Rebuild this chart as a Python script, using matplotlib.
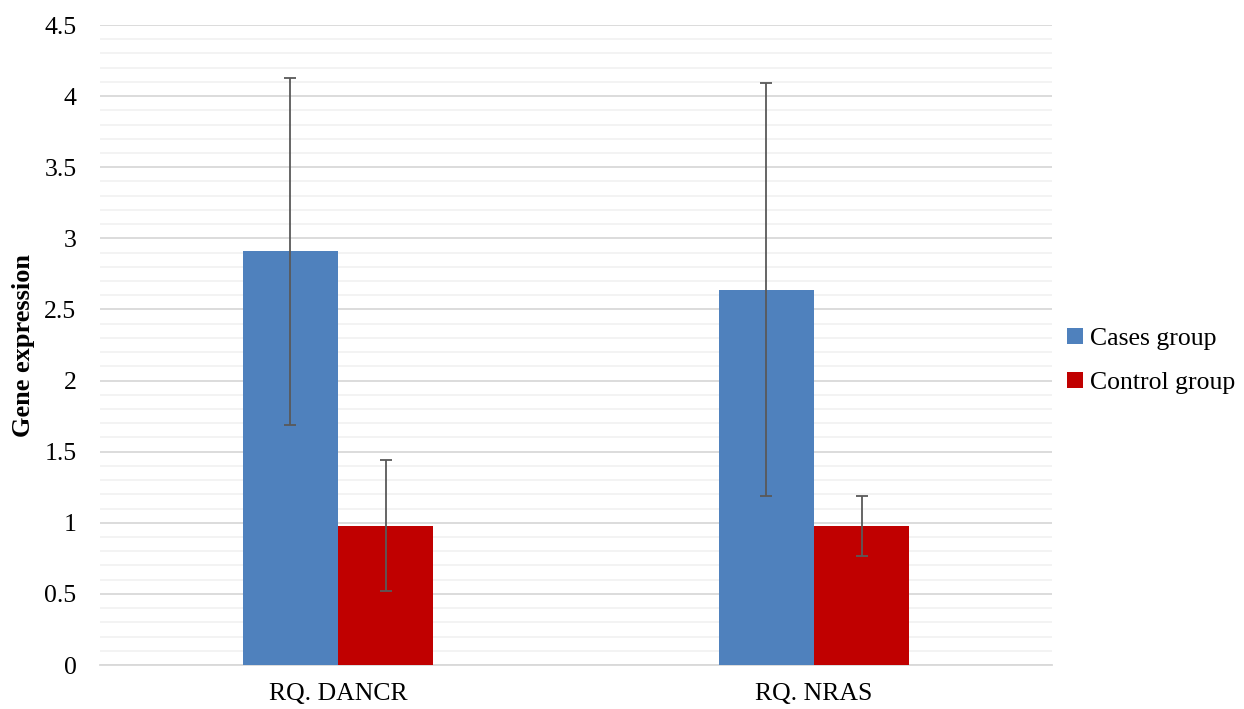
import matplotlib.pyplot as plt
import numpy as np
from matplotlib.ticker import MultipleLocator

plt.rcParams['font.family'] = ['Liberation Serif', 'DejaVu Serif']

categories = ['RQ. DANCR', 'RQ. NRAS']
series_names = ['Cases group', 'Control group']
cases_mean = [2.91, 2.64]
cases_err = [1.22, 1.45]
control_mean = [0.98, 0.98]
control_err = [0.46, 0.21]
colores = ['#4f81bd', '#c00000']

fig = plt.figure(figsize=(12.44, 7.09), dpi=100)
ax = fig.add_axes([0.0804, 0.062, 0.7653, 0.9027])

x = np.arange(len(categories))
ancho = 0.2
err_style = dict(ecolor='#595959', elinewidth=1.3, capsize=4.5, capthick=1.3)

ax.bar(x - ancho / 2, cases_mean, ancho, color=colores[0], label=series_names[0],
       yerr=cases_err, error_kw=err_style, zorder=3)
ax.bar(x + ancho / 2, control_mean, ancho, color=colores[1], label=series_names[1],
       yerr=control_err, error_kw=err_style, zorder=3)

ax.set_xlim(-0.5, 1.5)
ax.set_ylim(0, 4.5)
ax.yaxis.set_major_locator(MultipleLocator(0.5))
ax.yaxis.set_minor_locator(MultipleLocator(0.1))
ax.set_yticks(np.arange(0, 4.51, 0.5))
ax.set_yticklabels(['0', '0.5', '1', '1.5', '2', '2.5', '3', '3.5', '4', '4.5'])
ax.set_xticks(x)
ax.set_xticklabels(categories)

ax.grid(axis='y', which='major', color='#d9d9d9', linewidth=1.3, zorder=0)
ax.grid(axis='y', which='minor', color='#f2f2f2', linewidth=1.3, zorder=0)
ax.set_axisbelow(True)

for lado in ['top', 'right', 'left']:
    ax.spines[lado].set_visible(False)
ax.spines['bottom'].set_color('#d9d9d9')
ax.spines['bottom'].set_linewidth(1.3)

ax.tick_params(axis='both', which='both', length=0, labelsize=18.5, colors='black')
ax.tick_params(axis='y', pad=17)
ax.tick_params(axis='x', pad=13)

ax.set_ylabel('Gene expression', fontsize=19, fontweight='bold')
ax.yaxis.set_label_coords(-0.068, 0.5)

ax.legend(loc='center left', bbox_to_anchor=(1.005, 0.475), frameon=False,
          fontsize=18.5, handlelength=0.6, handleheight=0.6, handletextpad=0.3,
          labelspacing=0.85, borderaxespad=0)

fig.savefig('out.png', dpi=100)
